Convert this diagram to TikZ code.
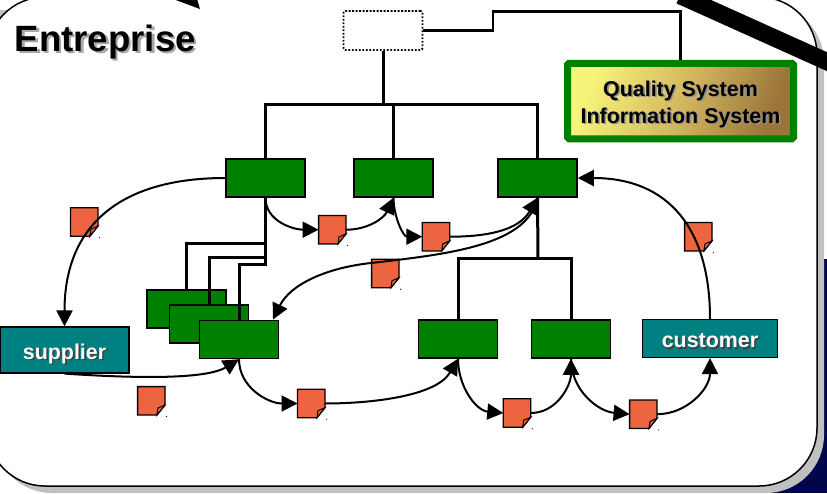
\documentclass[tikz,border=0pt]{standalone}
\usepackage{fontspec}
\setmainfont{Liberation Sans}
\usetikzlibrary{arrows.meta, positioning}

\definecolor{unitgreen}{HTML}{008000}
\definecolor{partnerteal}{HTML}{008080}
\definecolor{docorange}{HTML}{EC6440}
\definecolor{panelgray}{HTML}{C0C0C0}
\definecolor{navyback}{HTML}{00064A}

\newcommand{\softtext}[3]{\leavevmode\rlap{\kern#1\raisebox{-#1}{\textcolor{#2}{#3}}}#3}

\begin{document}
\begin{tikzpicture}[
    x=1pt, y=-1pt,
    % Define the style for each block
    unit/.style={rectangle, draw, line width=1.5pt, fill=unitgreen, inner sep=0pt, minimum width=79pt, minimum height=38pt},
    partner/.style={rectangle, draw, line width=1.2pt, fill=partnerteal, text=white, inner sep=0pt, minimum height=38pt, text height=18pt, text depth=0pt, font=\fontsize{21.4}{27}\selectfont\bfseries},
    docpage/.style={inner sep=0pt, minimum width=27pt, minimum height=28pt},
    tree/.style={line width=3pt},
    flow/.style={line width=2pt, -{Triangle[length=16pt,width=16pt]}}
]
\useasboundingbox (0,0) rectangle (827,493);
\clip (0,0) rectangle (827,493);

% Backdrop and panel
\fill [navyback] (760,260) rectangle (827,493);
\draw [line width=1pt] (824,259) -- (827,259);
\fill [panelgray] (0,10) -- (8,10) -- (0,18) -- cycle;
\fill [panelgray, rounded corners=58pt] (-6,4) rectangle (824,493);
\draw [fill=white, line width=1.5pt, rounded corners=58pt] (-13,-3) rectangle (817,486);

\node [anchor=base west, inner sep=0pt, font=\fontsize{36.6}{40}\selectfont\bfseries] (Title) at (14.5,51) {\softtext{2.5pt}{gray!70}{Entreprise}};

% Place nodes
\node [rectangle, draw, dash pattern=on 1.8pt off 1.7pt, line width=1.8pt, rounded corners=2pt, inner sep=0pt, minimum width=79pt, minimum height=39pt] (Head) at (383,30.5) {};
\node [rectangle, draw=unitgreen, line width=7pt, rounded corners=1.5pt, top color={rgb,255:red,248;green,244;blue,122}, bottom color={rgb,255:red,154;green,116;blue,56}, middle color={rgb,255:red,212;green,184;blue,96}, shading angle=70, inner sep=0pt, minimum width=226pt, minimum height=75.5pt, text height=49pt, text depth=5pt, align=center, font=\fontsize{21.4}{27}\selectfont\bfseries] (Quality) at (680.5,101) {\softtext{1.6pt}{gray!85}{Quality System}\\\softtext{1.6pt}{gray!85}{Information System}};

\node [unit] (UnitA) at (265.5,178) {};
\node [unit, right=47.5pt of UnitA] (UnitB) {};
\node [unit, right=63.5pt of UnitB] (UnitC) {};

\node [unit] (CellA) at (186.5,309) {};
\node [unit] (CellB) at (209,324) {};
\node [unit] (CellC) at (239,339.5) {};

\node [unit] (UnitD) at (458,339) {};
\node [unit, right=32.5pt of UnitD] (UnitE) {};

\node [partner, minimum width=129pt, minimum height=46pt] (Supplier) at (64.5,350) {\softtext{1.6pt}{black!75}{supplier}};
\node [partner, minimum width=135pt] (Customer) at (710,338.5) {\softtext{1.6pt}{black!75}{customer}};

% Documents
\foreach \docname/\docx/\docy in {DocA/84.2/222, DocB/332.3/229.7, DocC/436/236.7, DocD/698.3/236.7, DocE/385.3/273.5, DocF/151.3/400.8, DocG/311.2/403.5, DocH/517/413, DocI/643.3/414.2} {
    \node [docpage] (\docname) at (\docx,\docy) {};
    \draw [fill=docorange, line width=1.3pt] (\docname.north west) -- (\docname.north east) -- ([yshift=10pt]\docname.south east) -- ([xshift=-8pt]\docname.south east) -- (\docname.south west) -- cycle;
    \draw [fill=docorange, line width=1pt] ([yshift=10pt]\docname.south east) -- ([xshift=-7pt,yshift=7pt]\docname.south east) -- ([xshift=-8pt]\docname.south east) -- cycle;
    \fill ([xshift=1.5pt,yshift=-1.5pt]\docname.south east) circle (0.6pt);
}

% Draw the tree lines
\coordinate (HeadDrop) at (383,104.5);
\draw [tree] (Head.south) -- (HeadDrop);
\draw [tree] (UnitA.north) |- (HeadDrop) -| (UnitC.north);
\draw [tree] (UnitB.north) -- (UnitB.north |- HeadDrop);

\coordinate (HeadStep) at (493,30.5);
\coordinate (QualityRise) at (493,11.5);
\draw [line width=2.4pt] (Head.east) -- (HeadStep) -- (QualityRise) -| (Quality.north);

\coordinate (TrunkA) at (265.5,243);
\coordinate (TrunkB) at (265.5,257);
\coordinate (TrunkC) at (265.5,264);
\draw [tree] (UnitA.south) -- (TrunkC) -| (CellC.north);
\draw [tree] (TrunkA) -| (CellA.north);
\draw [tree] (TrunkB) -| (CellB.north);

\coordinate (LowerFork) at (538,258.5);
\draw [tree] (UnitC.south) -- (LowerFork);
\draw [tree] (UnitD.north) |- (LowerFork) -| (UnitE.north);

% Draw the flows
\draw [flow] (UnitA.west) to[out=180, in=90, looseness=1.2] (Supplier.north);
\draw [flow] (UnitA.south) to[out=-90, in=180] (DocB.west);
\draw [flow] (DocB.east) to[out=0, in=245] (UnitB.south);
\draw [flow] (UnitB.south) to[out=-90, in=180] (DocC.west);
\draw [flow] (DocC.east) to[out=0, in=240] (UnitC.south);
\coordinate (FlowBend) at (371,263);
\coordinate (CellEntry) at (273,319.5);
\draw [flow] (UnitC.south) .. controls (528,245) and (450,254) .. (FlowBend) .. controls (325,268) and (290,285) .. (CellEntry);
\draw [flow] (Supplier.south) .. controls (130,378) and (205,380) .. (CellC.south);
\draw [flow] (CellC.south) to[out=-90, in=180] (DocG.west);
\draw [flow] (DocG.east) to[out=0, in=240, looseness=0.8] (UnitD.south);
\draw [flow] (UnitD.south) to[out=-90, in=175] (DocH.west);
\draw [flow] (DocH.east) to[out=0, in=-90] (UnitE.south);
\draw [flow] (UnitE.south) to[out=-90, in=175] (DocI.west);
\draw [flow] (DocI.east) to[out=0, in=-90] (Customer.south);
\draw [flow] (Customer.north) to[out=90, in=0, looseness=1.2] (UnitC.east);

% Neighbouring arrows that cross the edge of the slide
\coordinate (SlashStart) at (680,-4.5);
\coordinate (SlashEnd) at (840,67.5);
\draw [line width=17.3pt] (SlashStart) -- (SlashEnd);
\fill (173,-1) -- (200,9) -- (197,-1) -- cycle;
\end{tikzpicture}
\end{document}
